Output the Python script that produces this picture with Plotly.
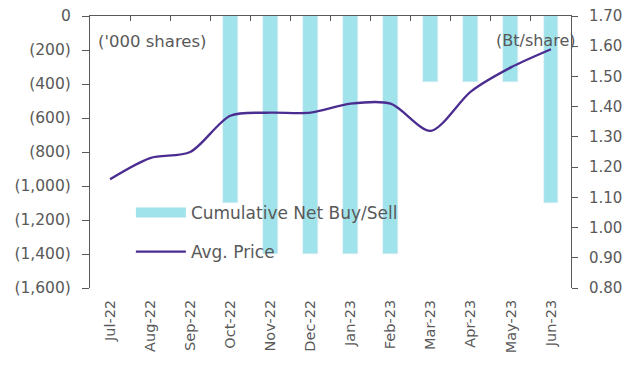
import plotly.graph_objects as go

# Monthly categories
months = ["Jul-22", "Aug-22", "Sep-22", "Oct-22", "Nov-22", "Dec-22",
          "Jan-23", "Feb-23", "Mar-23", "Apr-23", "May-23", "Jun-23"]

# Cumulative net buy/sell ('000 shares); no position before Oct-22
net_buy_sell = [None, None, None, -1100, -1400, -1400,
                -1400, -1400, -390, -390, -390, -1100]

# Average price (Bt/share)
avg_price = [1.16, 1.23, 1.25, 1.37, 1.38, 1.38,
             1.41, 1.41, 1.32, 1.45, 1.53, 1.59]

# Left axis ticks
left_tickvals = [0, -200, -400, -600, -800, -1000, -1200, -1400, -1600]
left_ticktext = ["0", "(200)", "(400)", "(600)", "(800)", "(1,000)",
                 "(1,200)", "(1,400)", "(1,600)"]

BAR_COLOR = "#A0E3EB"
LINE_COLOR = "#4B2C90"
TEXT_COLOR = "#595959"
AXIS_COLOR = "#595959"
FONT = "DejaVu Sans"

fig = go.Figure()

fig.add_trace(go.Bar(
    x=months, y=net_buy_sell, marker_color=BAR_COLOR, width=0.37,
    showlegend=False, yaxis="y", xaxis="x",
))

fig.add_trace(go.Scatter(
    x=months, y=avg_price, mode="lines", yaxis="y2", xaxis="x",
    line=dict(color=LINE_COLOR, width=2.3, shape="spline", smoothing=0.8),
    name="Avg. Price", legend="legend2",
))

# Legend entry for the bars, drawn as a thick swatch
fig.add_trace(go.Scatter(
    x=[None], y=[None], mode="lines", yaxis="y", xaxis="x",
    line=dict(color=BAR_COLOR, width=10),
    name="Cumulative Net Buy/Sell", legend="legend",
))

# Category axis line along zero, with boundary ticks
fig.add_trace(go.Scatter(
    x=months, y=[None] * len(months), xaxis="x2", yaxis="y",
    showlegend=False, hoverinfo="skip",
))

cat_range = [-0.5, len(months) - 0.5]

fig.update_layout(
    width=640, height=369,
    margin=dict(l=90, r=69, t=16, b=81, autoexpand=False),
    paper_bgcolor="white", plot_bgcolor="white",
    font=dict(family=FONT, size=15, color=TEXT_COLOR),
    bargap=0,
    xaxis=dict(
        type="category", categoryorder="array", categoryarray=months,
        range=cat_range, autorange=False, automargin=False,
        tickangle=-90, showline=False, showgrid=False, ticks="",
        tickfont=dict(size=14.5, color=TEXT_COLOR), ticklabelstandoff=8,
    ),
    xaxis2=dict(
        type="category", categoryorder="array", categoryarray=months,
        range=cat_range, autorange=False, automargin=False,
        overlaying="x", anchor="y", side="top",
        showline=True, linecolor=AXIS_COLOR, linewidth=1,
        ticks="inside", tickson="boundaries", ticklen=5,
        tickcolor=AXIS_COLOR, showticklabels=False, showgrid=False,
    ),
    yaxis=dict(
        range=[-1600, 0], tickvals=left_tickvals, ticktext=left_ticktext,
        showline=True, linecolor=AXIS_COLOR, linewidth=1, automargin=False,
        ticks="outside", ticklen=7, tickcolor=AXIS_COLOR,
        showgrid=False, zeroline=False, tickfont=dict(size=15.5),
        ticklabelstandoff=8,
    ),
    yaxis2=dict(
        range=[0.8, 1.7], dtick=0.1, tickformat=".2f",
        overlaying="y", side="right", anchor="x", automargin=False,
        showline=True, linecolor=AXIS_COLOR, linewidth=1,
        ticks="outside", ticklen=6, tickcolor=AXIS_COLOR,
        showgrid=False, zeroline=False, tickfont=dict(size=15),
        ticklabelstandoff=8,
    ),
    legend=dict(
        x=0.085, y=0.276, xanchor="left", yanchor="middle",
        bgcolor="rgba(0,0,0,0)", font=dict(size=17, color=TEXT_COLOR),
        itemwidth=50,
    ),
    legend2=dict(
        x=0.085, y=0.132, xanchor="left", yanchor="middle",
        bgcolor="rgba(0,0,0,0)", font=dict(size=17, color=TEXT_COLOR),
        itemwidth=50,
    ),
    annotations=[
        dict(text="('000 shares)", xref="paper", yref="paper", x=0.012, y=0.905,
             xanchor="left", yanchor="middle", showarrow=False,
             font=dict(size=16.5, color=TEXT_COLOR)),
        dict(text="(Bt/share)", xref="paper", yref="paper", x=1.012, y=0.91,
             xanchor="right", yanchor="middle", showarrow=False,
             font=dict(size=16, color=TEXT_COLOR)),
    ],
)

fig.write_html("out.html")
